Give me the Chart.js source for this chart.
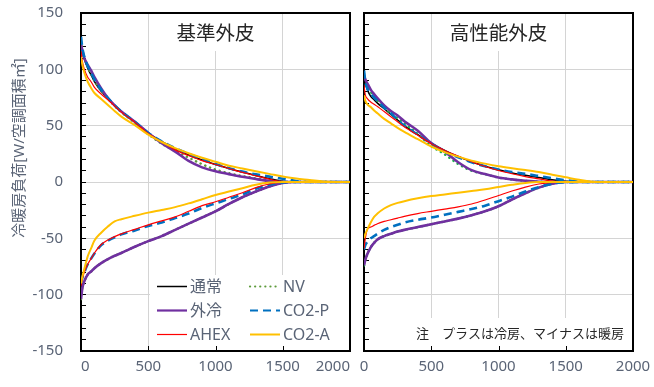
<!DOCTYPE html>
<html lang="ja">
<head>
<meta charset="utf-8">
<title>冷暖房負荷</title>
<script src="https://cdn.jsdelivr.net/npm/chart.js@4.4.1/dist/chart.umd.min.js"></script>
<style>
  html, body { margin: 0; padding: 0; background: #ffffff; }
  #wrap { position: relative; width: 654px; height: 387px; overflow: hidden; }
  canvas { position: absolute; top: 0; }
  #cA { left: 0; width: 357px; height: 387px; }
  #cB { left: 357px; width: 297px; height: 387px; }
</style>
</head>
<body>
<div id="wrap">
  <canvas id="cA" width="357" height="387"></canvas>
  <canvas id="cB" width="297" height="387"></canvas>
</div>
<script>
// ---- shared axes / labels ----
const HOURS = [0, 10, 25, 50, 75, 100, 150, 200, 250, 300, 400, 500, 600, 700, 800, 900,
               1000, 1100, 1200, 1300, 1400, 1500, 1600, 1700, 1800, 1900, 2000];
const SERIES = ['通常', 'NV', '外冷', 'CO2-P', 'AHEX', 'CO2-A'];
const PANEL_TITLES = ['基準外皮', '高性能外皮'];
const X_TICKS = [0, 500, 1000, 1500, 2000];
const Y_LABEL_TICKS = [-150, -100, -50, 0, 50, 100, 150];
const Y_TITLE = '冷暖房負荷[W/空調面積㎡]';
const NOTE = '注　プラスは冷房、マイナスは暖房';

// ---- 基準外皮 : cooling (+) and heating (-) load duration curves ----
const STD_COOL_A  = [122, 115, 109, 101, 95, 89, 80.5, 74, 68, 62.5, 53.5, 43.5, 36, 29.5, 24, 19.5, 15.5, 12, 8.8, 5.8, 3, 0.6, 0, 0, 0, 0, 0];
const NV_COOL_A   = [125, 117, 110, 102, 96, 90, 81, 74, 67.5, 62, 52.5, 42.5, 34, 27.5, 21.7, 15.8, 11, 7.8, 5.3, 3.2, 1.4, 0, 0, 0, 0, 0, 0];
const OAC_COOL_A  = [122, 117, 110, 104, 99, 93, 83, 74.5, 68, 62.5, 53.5, 43.5, 34.5, 27, 18.7, 13, 9.5, 7, 4.6, 2.6, 0.9, 0, 0, 0, 0, 0, 0];
const CO2P_COOL_A = [129, 119, 111, 103, 97, 91, 82, 74.5, 68, 62.5, 53.5, 43.5, 36, 30, 25, 20.5, 16, 12.3, 9.2, 6.8, 4.8, 2.9, 0.9, 0, 0, 0, 0];
const AHEX_COOL_A = [116, 107, 100, 93, 89, 84, 78, 73, 67.5, 62, 53, 43, 35.5, 28.5, 23.5, 19, 15.5, 12, 8.5, 5.5, 2.6, 0.2, 0, 0, 0, 0, 0];
const CO2A_COOL_A = [111, 104, 97, 89, 83.5, 79, 73.7, 68.4, 63, 58, 50.5, 42, 35.5, 30, 25.5, 21.5, 18, 14.4, 12, 9.6, 7.2, 4.8, 3.1, 1.8, 0.4, 0, 0];

const STD_HEAT_A  = [-104, -94, -88, -82, -79.5, -76.5, -72, -68.5, -65.5, -63, -57.5, -52.5, -48, -42.5, -37, -31.5, -26, -19.5, -13.5, -8.5, -4, -0.8, 0, 0, 0, 0, 0];
const NV_HEAT_A   = [-104, -94, -88, -82, -79.5, -76.5, -72, -68.5, -65.5, -63, -57.5, -52.5, -48, -42.5, -37, -31.5, -26, -19.5, -13.5, -8.5, -4, -0.8, 0, 0, 0, 0, 0];
const OAC_HEAT_A  = [-104, -94, -88, -82, -79.5, -76.5, -72, -68.5, -65.5, -63, -57.5, -52.5, -48, -42.5, -37, -31.5, -26, -19.5, -13.5, -8.5, -4, -0.8, 0, 0, 0, 0, 0];
const CO2P_HEAT_A = [-90, -85, -80, -73, -68, -63.5, -56, -52, -49, -46.5, -43, -39, -36, -32, -28, -23, -19, -15, -11, -6, -2.5, -0.3, 0, 0, 0, 0, 0];
const AHEX_HEAT_A = [-92, -86, -80, -73, -68, -63, -55.5, -51.5, -48.5, -46, -42, -38, -34.5, -31, -26, -21, -17.5, -13.5, -9.5, -5, -1.8, 0, 0, 0, 0, 0, 0];
const CO2A_HEAT_A = [-90, -84, -77, -66, -59, -52, -45, -39.5, -35, -33, -30, -27.2, -24.8, -22.3, -19, -15.3, -11.5, -8.5, -5.5, -2.5, -0.5, 0, 0, 0, 0, 0, 0];

// ---- 高性能外皮 ----
const STD_COOL_B  = [95, 88, 82, 76, 73, 70, 65, 60, 55, 50, 42, 34.5, 28, 22.5, 18, 14, 10.8, 8, 6, 4, 2, 0.6, 0, 0, 0, 0, 0];
const NV_COOL_B   = [96, 90, 86, 80, 76, 72.5, 66, 61, 56.5, 52, 42.5, 32, 24.5, 16, 10, 7, 4, 2.2, 1, 0.2, 0, 0, 0, 0, 0, 0, 0];
const OAC_COOL_B  = [95, 91, 87.5, 82, 78, 74.5, 68, 63, 59, 54, 45.5, 34.5, 27, 17.5, 10.5, 7, 4, 2.3, 1.1, 0.2, 0, 0, 0, 0, 0, 0, 0];
const CO2P_COOL_B = [99, 89, 83, 78.5, 75, 72, 66, 61, 55, 50, 42, 34, 27, 22, 17.5, 14, 11, 8.8, 7.2, 5.3, 3.3, 1.5, 0.4, 0, 0, 0, 0];
const AHEX_COOL_B = [86, 77, 74, 71, 69, 67, 62.5, 58, 53.5, 49, 41.5, 34, 28, 23, 18, 13.8, 10.2, 7.3, 4.8, 2.8, 0.8, 0, 0, 0, 0, 0, 0];
const CO2A_COOL_B = [77, 72, 69, 66.5, 63.5, 61, 56, 52, 48, 44.5, 38, 31.5, 26.5, 22.5, 19, 16.3, 14, 12.2, 10.6, 8.8, 6.5, 4.2, 1.9, 0.2, 0, 0, 0];

const STD_HEAT_B  = [-74, -69, -64, -58, -54, -51, -48, -46, -44, -42.5, -40, -37.5, -35, -32.5, -29.5, -26, -21.5, -15.5, -10, -5, -1.5, 0, 0, 0, 0, 0, 0];
const NV_HEAT_B   = [-74, -69, -64, -58, -54, -51, -48, -46, -44, -42.5, -40, -37.5, -35, -32.5, -29.5, -26, -21.5, -15.5, -10, -5, -1.5, 0, 0, 0, 0, 0, 0];
const OAC_HEAT_B  = [-74, -69, -64, -58, -54, -51, -48, -46, -44, -42.5, -40, -37.5, -35, -32.5, -29.5, -26, -21.5, -15.5, -10, -5, -1.5, 0, 0, 0, 0, 0, 0];
const CO2P_HEAT_B = [-60, -56, -53, -50, -48, -46, -42.5, -40, -38, -36, -33.5, -31.5, -29, -26.5, -24, -21, -17, -13, -8.5, -4.5, -1.5, -0.2, 0, 0, 0, 0, 0];
const AHEX_HEAT_B = [-59, -50, -42, -40, -38.5, -37, -35, -33.5, -32, -30.5, -28, -26, -24, -22, -19.5, -16, -12, -8, -4.5, -1.8, -0.3, 0, 0, 0, 0, 0, 0];
const CO2A_HEAT_B = [-50, -46, -42, -36, -31, -28, -23.5, -20.5, -18.5, -17, -14.5, -12.5, -11, -9.5, -8, -6.5, -4.5, -2.5, -0.8, 0, 0, 0, 0, 0, 0, 0, 0];

// ---- look ----
const FONT = "'Noto Sans', 'Noto Sans CJK JP', sans-serif";
const INK = '#5a6476';
const DARK = '#262626';
const GRID = '#d4d4d4';
const CLEAR = 'rgba(0,0,0,0)';

const STYLES = [
  { color: '#000000', width: 1.5, dash: [], cap: 'butt' },
  { color: '#5e9b3c', width: 2.5, dash: [0.1, 5], cap: 'round' },
  { color: '#7030a0', width: 2.6, dash: [], cap: 'butt' },
  { color: '#0070c0', width: 2.6, dash: [8, 5], cap: 'butt' },
  { color: '#ff0000', width: 1.2, dash: [], cap: 'butt' },
  { color: '#ffc000', width: 2, dash: [], cap: 'butt' }
];

Chart.defaults.font.family = FONT;

// one dataset = cooling curve, a gap, then heating curve
function curve(cool, heat) {
  const pts = cool.map((v, i) => ({ x: HOURS[i], y: v }));
  pts.push({ x: HOURS[HOURS.length - 1], y: null });
  heat.forEach((v, i) => pts.push({ x: HOURS[i], y: v }));
  return pts;
}

function buildDatasets(cools, heats, nvColor) {
  return SERIES.map((name, i) => {
    const s = STYLES[i];
    const color = i === 1 && nvColor ? nvColor : s.color;
    return {
      label: name,
      data: curve(cools[i], heats[i]),
      borderColor: color,
      backgroundColor: color,
      borderWidth: s.width,
      borderDash: s.dash,
      borderCapStyle: s.cap,
      borderJoinStyle: 'round',
      pointRadius: 0,
      fill: false,
      cubicInterpolationMode: 'monotone',
      spanGaps: false,
      order: SERIES.length - 1 - i
    };
  });
}

// frame, cut-out boxes, titles, legend and note
function decor(cfg) {
  return {
    id: 'decor',
    beforeDatasetsDraw(chart) {
      const { ctx, chartArea: a, scales: { x } } = chart;
      ctx.save();
      ctx.fillStyle = '#ffffff';
      const cx = (a.left + a.right) / 2;
      ctx.fillRect(cx - cfg.titleBox / 2, a.top + 1, cfg.titleBox, 37);
      if (cfg.legend) ctx.fillRect(a.left + 69, a.bottom - 76, a.right - a.left - 69, 76);
      if (cfg.note) ctx.fillRect(a.left + 46, a.bottom - 33, a.right - a.left - 46, 33);
      // inner tick marks on the hour axis
      ctx.strokeStyle = '#000000';
      ctx.lineWidth = 1;
      x.ticks.forEach(t => {
        const px = Math.round(x.getPixelForValue(t.value)) + 0.5;
        ctx.beginPath();
        ctx.moveTo(px, a.bottom);
        ctx.lineTo(px, a.bottom - 5);
        ctx.stroke();
      });
      // plot frame
      ctx.lineWidth = 2;
      ctx.strokeRect(a.left, a.top, a.right - a.left, a.bottom - a.top);
      ctx.restore();
    },
    afterDatasetsDraw(chart) {
      const { ctx, chartArea: a } = chart;
      ctx.save();
      ctx.textBaseline = 'middle';
      // panel title
      ctx.fillStyle = DARK;
      ctx.font = `19.5px ${FONT}`;
      ctx.textAlign = 'center';
      ctx.fillText(cfg.title, (a.left + a.right) / 2, a.top + 21);
      // legend
      if (cfg.legend) {
        ctx.font = `16px ${FONT}`;
        chart.data.datasets.forEach((ds, i) => {
          const col = i % 2, row = Math.floor(i / 2);
          const x0 = a.left + 76 + col * 93;
          const y0 = a.top + 273 + row * 24;
          ctx.strokeStyle = ds.borderColor;
          ctx.lineWidth = Math.min(ds.borderWidth, 2.2);
          ctx.setLineDash(ds.borderDash);
          ctx.lineCap = ds.borderCapStyle;
          ctx.beginPath();
          ctx.moveTo(x0, y0 + 0.5);
          ctx.lineTo(x0 + 30, y0 + 0.5);
          ctx.stroke();
          ctx.setLineDash([]);
          ctx.fillStyle = INK;
          ctx.textAlign = 'left';
          ctx.fillText(ds.label, x0 + 33, y0 + 1);
        });
      }
      // note
      if (cfg.note) {
        ctx.fillStyle = DARK;
        ctx.font = `13px ${FONT}`;
        ctx.textAlign = 'left';
        ctx.fillText(cfg.note, a.left + 52, a.bottom - 17);
      }
      // vertical axis title
      if (cfg.yTitle) {
        ctx.fillStyle = INK;
        ctx.font = `15px ${FONT}`;
        ctx.textAlign = 'center';
        ctx.translate(20, 148);
        ctx.rotate(-Math.PI / 2);
        ctx.fillText(cfg.yTitle, 0, 0);
      }
      ctx.restore();
    }
  };
}

function makeChart(id, cfg) {
  return new Chart(document.getElementById(id), {
    type: 'line',
    data: { datasets: buildDatasets(cfg.cools, cfg.heats, cfg.nvColor) },
    options: {
      responsive: false,
      animation: false,
      devicePixelRatio: 1,
      layout: { padding: cfg.padding },
      plugins: { legend: { display: false }, tooltip: { enabled: false }, title: { display: false } },
      scales: {
        x: {
          type: 'linear', min: 0, max: 2000,
          afterBuildTicks: s => { s.ticks = X_TICKS.map(v => ({ value: v })); },
          afterFit: s => { s.height = 36; s.paddingLeft = 0; s.paddingRight = 0; },
          border: { display: false },
          grid: { color: GRID, lineWidth: 1, drawTicks: false },
          ticks: {
            color: INK, font: { size: 15 }, padding: 7, align: cfg.xAlign,
            maxRotation: 0, autoSkip: false, callback: v => String(v)
          }
        },
        y: {
          type: 'linear', min: -150, max: 150,
          afterFit: s => { s.width = cfg.yWidth; s.paddingTop = 0; s.paddingBottom = 0; },
          border: { display: false },
          grid: {
            color: c => (c.tick && Y_LABEL_TICKS.includes(c.tick.value)) ? GRID : CLEAR,
            lineWidth: 1, tickColor: '#000000', tickLength: -5, tickWidth: 1
          },
          ticks: {
            display: cfg.yLabels, stepSize: 10, autoSkip: false,
            color: INK, font: { size: 15 }, padding: 23,
            callback: v => Y_LABEL_TICKS.includes(v) ? String(v) : ''
          }
        }
      }
    },
    plugins: [decor(cfg)]
  });
}

makeChart('cA', {
  title: PANEL_TITLES[0],
  cools: [STD_COOL_A, NV_COOL_A, OAC_COOL_A, CO2P_COOL_A, AHEX_COOL_A, CO2A_COOL_A],
  heats: [STD_HEAT_A, NV_HEAT_A, OAC_HEAT_A, CO2P_HEAT_A, AHEX_HEAT_A, CO2A_HEAT_A],
  padding: { left: 0, right: 7, top: 13, bottom: 0 },
  yWidth: 81, yLabels: true, xAlign: 'inner',
  titleBox: 100, legend: true, note: null, yTitle: Y_TITLE
});

makeChart('cB', {
  title: PANEL_TITLES[1],
  cools: [STD_COOL_B, NV_COOL_B, OAC_COOL_B, CO2P_COOL_B, AHEX_COOL_B, CO2A_COOL_B],
  heats: [STD_HEAT_B, NV_HEAT_B, OAC_HEAT_B, CO2P_HEAT_B, AHEX_HEAT_B, CO2A_HEAT_B],
  nvColor: '#1fb04c',
  padding: { left: 7, right: 21, top: 13, bottom: 0 },
  yWidth: 0, yLabels: false, xAlign: 'center',
  titleBox: 120, legend: false, note: NOTE, yTitle: null
});
</script>
</body>
</html>
